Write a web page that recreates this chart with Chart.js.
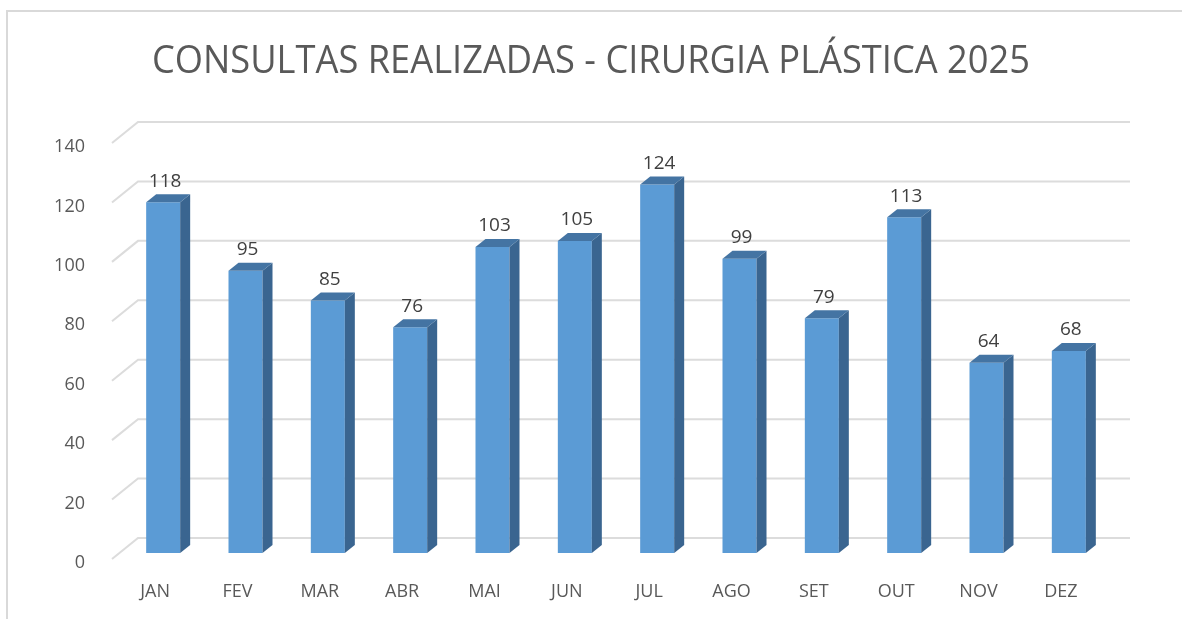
<!DOCTYPE html>
<html>
<head>
<meta charset="utf-8">
<script src="https://cdn.jsdelivr.net/npm/chart.js@4.4.1/dist/chart.umd.min.js"></script>
<style>
  html, body { margin: 0; padding: 0; background: #ffffff; }
  #wrap { width: 1182px; height: 619px; position: relative; }
</style>
</head>
<body>
<div id="wrap"><canvas id="c" width="1182" height="619"></canvas></div>
<script>
const chartTitle = 'CONSULTAS REALIZADAS - CIRURGIA PLÁSTICA 2025';
const months = ['JAN', 'FEV', 'MAR', 'ABR', 'MAI', 'JUN', 'JUL', 'AGO', 'SET', 'OUT', 'NOV', 'DEZ'];
const consultas = [118, 95, 85, 76, 103, 105, 124, 99, 79, 113, 64, 68];
const yTicks = [0, 20, 40, 60, 80, 100, 120, 140];

const DEPTH_X = 10, DEPTH_Y = 8;
const WALL_DX = 16, WALL_DY = -15, FLOOR_DX = -10, FLOOR_DY = 6;

const framePlugin = {
  id: 'frame',
  beforeDraw(chart) {
    const ctx = chart.ctx;
    ctx.save();
    ctx.fillStyle = '#ffffff';
    ctx.fillRect(0, 0, chart.width, chart.height);
    ctx.strokeStyle = '#D9D9D9';
    ctx.lineWidth = 2;
    ctx.beginPath();
    ctx.moveTo(7, chart.height);
    ctx.lineTo(7, 11);
    ctx.lineTo(chart.width, 11);
    ctx.stroke();
    // title
    ctx.fillStyle = '#595959';
    ctx.font = '38px "Open Sans"';
    ctx.textAlign = 'center';
    ctx.textBaseline = 'alphabetic';
    const w = ctx.measureText(chartTitle).width;
    const sx = 878 / w;
    ctx.translate(591, 73);
    ctx.scale(sx, 1);
    ctx.fillText(chartTitle, 0, 0);
    ctx.restore();
  }
};

const gridPlugin = {
  id: 'grid3d',
  beforeDatasetsDraw(chart) {
    const ctx = chart.ctx, y = chart.scales.y, area = chart.chartArea;
    ctx.save();
    ctx.strokeStyle = '#DCDCDC';
    ctx.lineWidth = 2;
    yTicks.forEach(v => {
      const py = y.getPixelForValue(v);
      const yb = py + WALL_DY;
      ctx.beginPath();
      ctx.moveTo(area.left + FLOOR_DX, py + FLOOR_DY);
      ctx.lineTo(area.left + WALL_DX, yb);
      ctx.lineTo(area.right + 20, yb);
      ctx.stroke();
    });
    ctx.restore();
  }
};

const bar3dPlugin = {
  id: 'bar3d',
  afterDatasetsDraw(chart) {
    const ctx = chart.ctx;
    const meta = chart.getDatasetMeta(0);
    ctx.save();
    meta.data.forEach((bar, i) => {
      const p = bar.getProps(['x', 'y', 'base', 'width'], true);
      const l = p.x - p.width / 2, r = p.x + p.width / 2;
      // side face
      ctx.fillStyle = '#3A6590';
      ctx.beginPath();
      ctx.moveTo(r, p.y);
      ctx.lineTo(r + DEPTH_X, p.y - DEPTH_Y);
      ctx.lineTo(r + DEPTH_X, p.base - DEPTH_Y);
      ctx.lineTo(r, p.base);
      ctx.closePath();
      ctx.fill();
      // top face
      ctx.fillStyle = '#4474A3';
      ctx.beginPath();
      ctx.moveTo(l, p.y);
      ctx.lineTo(r, p.y);
      ctx.lineTo(r + DEPTH_X, p.y - DEPTH_Y);
      ctx.lineTo(l + DEPTH_X, p.y - DEPTH_Y);
      ctx.closePath();
      ctx.fill();
      // value label
      ctx.fillStyle = '#404040';
      ctx.font = '19px "Open Sans"';
      ctx.textAlign = 'center';
      ctx.textBaseline = 'middle';
      ctx.fillText(String(consultas[i]), p.x + 2, p.y - 21);
    });
    ctx.restore();
  }
};

new Chart(document.getElementById('c'), {
  type: 'bar',
  data: {
    labels: months,
    datasets: [{
      data: consultas,
      backgroundColor: '#5B9BD5',
      borderWidth: 0,
      barPercentage: 0.413,
      categoryPercentage: 1.0
    }]
  },
  options: {
    responsive: false,
    animation: false,
    devicePixelRatio: 1,
    layout: { padding: { left: 0, right: 72, top: 137, bottom: 0 } },
    plugins: {
      legend: { display: false },
      title: { display: false },
      tooltip: { enabled: false }
    },
    scales: {
      x: {
        grid: { display: false, drawTicks: false },
        border: { display: false },
        afterFit(s) { s.height = 66; },
        ticks: {
          color: '#595959',
          font: { family: 'Open Sans', size: 18 },
          padding: 28,
          labelOffset: -8,
          maxRotation: 0
        }
      },
      y: {
        min: 0, max: 140,
        grid: { display: false, drawTicks: false },
        border: { display: false },
        afterFit(s) { s.width = 122; },
        afterBuildTicks(s) { s.ticks = yTicks.map(v => ({ value: v })); },
        ticks: {
          color: '#595959',
          font: { family: 'Open Sans', size: 18 },
          padding: 37,
          labelOffset: 10
        }
      }
    }
  },
  plugins: [framePlugin, gridPlugin, bar3dPlugin]
});
</script>
</body>
</html>
